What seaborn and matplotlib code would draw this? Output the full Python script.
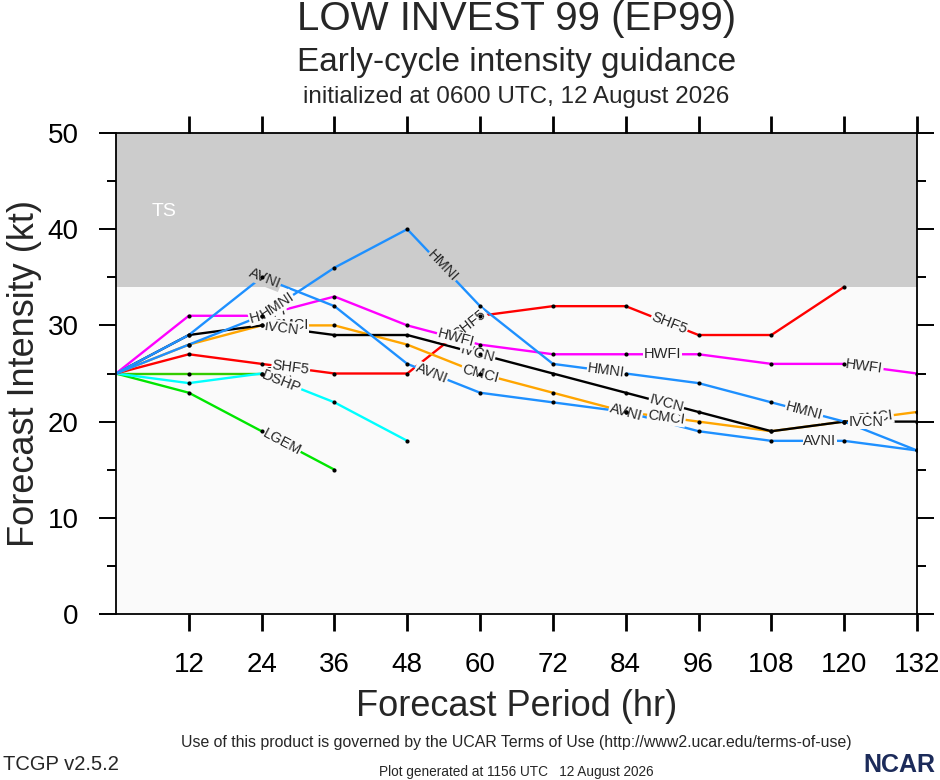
import numpy as np
import pandas as pd
import matplotlib
matplotlib.use("Agg")
import matplotlib.pyplot as plt
from matplotlib.ticker import MultipleLocator, FixedLocator
import seaborn as sns

# forecast hours and intensity guidance (kt)
hours = [0, 12, 24, 36, 48, 60, 72, 84, 96, 108, 120, 132]

avni = [25, 29, 35, 32, 26, 23, 22, 21, 19, 18, 18, 17]
hmni = [25, 28, 31, 36, 40, 32, 26, 25, 24, 22, 20, 17]
hwfi = [25, 31, 31, 33, 30, 28, 27, 27, 27, 26, 26, 25]
ivcn = [25, 29, 30, 29, 29, 27, 25, 23, 21, 19, 20, 20]
cmci = [25, 28, 30, 30, 28, 25, 23, 21, 20, 19, 20, 21]
shf5 = [25, 27, 26, 25, 25, 31, 32, 32, 29, 29, 34]
dshp = [25, 24, 25, 22, 18]
ship = [25, 25, 25]
lgem = [25, 23, 19, 15]

models = ["SHIP", "LGEM", "DSHP", "SHF5", "CMCI", "IVCN", "HWFI", "HMNI", "AVNI"]
series = [ship, lgem, dshp, shf5, cmci, ivcn, hwfi, hmni, avni]
palette = {"SHIP": "#33cc00", "LGEM": "#00e600", "DSHP": "#00ffff",
           "SHF5": "#ff0000", "CMCI": "#ffa500", "IVCN": "#000000",
           "HWFI": "#ff00ff", "HMNI": "#1e90ff", "AVNI": "#1e90ff"}

# where along each line the model name is written (forecast hour)
label_hours = {"SHIP": [27.3], "LGEM": [27.3], "DSHP": [27.3],
               "SHF5": [28.8, 58.3, 91.2],
               "CMCI": [28.6, 60, 90.7, 125],
               "IVCN": [27.3, 59.6, 90.7, 123.6],
               "HWFI": [25, 56, 90, 123.3],
               "HMNI": [26.5, 53.8, 80.8, 113.4],
               "AVNI": [24.5, 52, 84, 116]}

ts_threshold = 34

rows = []
for name, vals in zip(models, series):
    for h, v in zip(hours, vals):
        rows.append({"hour": h, "kt": v, "model": name})
df = pd.DataFrame(rows)

sns.set_style("ticks")
plt.rcParams['font.family'] = ['Liberation Sans', 'DejaVu Sans']

fig = plt.figure(figsize=(9.4, 7.8), dpi=100)
ax = fig.add_axes([116 / 940, 1 - 614 / 780, (917 - 116) / 940, (614 - 133) / 780])
ax.set_xlim(0, 132)
ax.set_ylim(0, 50)
ax.set_facecolor("#fafafa")
ax.axhspan(ts_threshold, 50, color="#cccccc", zorder=0, linewidth=0)
ax.text(8, 41.8, "TS", color="white", fontsize=14, ha="center", va="center")

sns.lineplot(data=df, x="hour", y="kt", hue="model", palette=palette,
             estimator=None, sort=False, linewidth=1.7, legend=False, ax=ax)
sns.scatterplot(data=df[df["hour"] > 0], x="hour", y="kt", color="black",
                s=9, linewidth=0, zorder=5, ax=ax)

# model labels along the lines
for name, vals in zip(models, series):
    hrs = hours[:len(vals)]
    for h in label_hours[name]:
        y = np.interp(h, hrs, vals)
        i = min(int(h // 12), len(vals) - 2)
        p0 = ax.transData.transform((hrs[i], vals[i]))
        p1 = ax.transData.transform((hrs[i + 1], vals[i + 1]))
        ang = np.degrees(np.arctan2(p1[1] - p0[1], p1[0] - p0[0]))
        bg = "#cccccc" if y > ts_threshold else "#fafafa"
        ax.text(h, y, name, fontsize=10.5, rotation=ang, rotation_mode="anchor",
                ha="center", va="center", zorder=4,
                bbox=dict(boxstyle="square,pad=0.05", fc=bg, ec="none"))

ax.xaxis.set_major_locator(FixedLocator(hours[1:]))
ax.yaxis.set_major_locator(MultipleLocator(10))
ax.yaxis.set_minor_locator(MultipleLocator(5))
ax.tick_params(axis="both", which="both", direction="out", bottom=True, top=True,
               left=True, right=True, labeltop=False, labelright=False,
               color="black", labelcolor="black")
ax.tick_params(axis="x", which="major", length=12, width=2, labelsize=20, pad=15)
ax.tick_params(axis="y", which="major", length=12, width=1.4, labelsize=20, pad=15)
ax.tick_params(axis="y", which="minor", length=6.5, width=1.4)
ax.tick_params(axis="x", which="minor", length=0)
for sp in ax.spines.values():
    sp.set_linewidth(1.3)
    sp.set_color("black")

ax.set_xlabel("Forecast Period (hr)", fontsize=26, labelpad=8)
ax.set_ylabel("Forecast Intensity (kt)", fontsize=26, labelpad=4)

cx = (116 + 917) / 2 / 940
fig.text(cx, 1 - 19 / 780, "LOW INVEST 99 (EP99)", fontsize=29, ha="center", va="center")
fig.text(cx, 1 - 62 / 780, "Early-cycle intensity guidance", fontsize=24, ha="center", va="center")
fig.text(cx, 1 - 97 / 780, "initialized at 0600 UTC, 12 August 2026", fontsize=17.5,
         ha="center", va="center")

fig.text(cx, 1 - 743 / 780,
         "Use of this product is governed by the UCAR Terms of Use (http://www2.ucar.edu/terms-of-use)",
         fontsize=11.4, ha="center", va="center")
fig.text(3 / 940, 1 - 765 / 780, "TCGP v2.5.2", fontsize=14.5, ha="left", va="center")
fig.text(cx, 1 - 772 / 780, "Plot generated at 1156 UTC   12 August 2026", fontsize=9.8,
         ha="center", va="center")
fig.text(935 / 940, 1 - 765 / 780, "NCAR", fontsize=18, fontweight="bold",
         color="#1c2b5a", ha="right", va="center")

fig.savefig("out.png", dpi=100)
